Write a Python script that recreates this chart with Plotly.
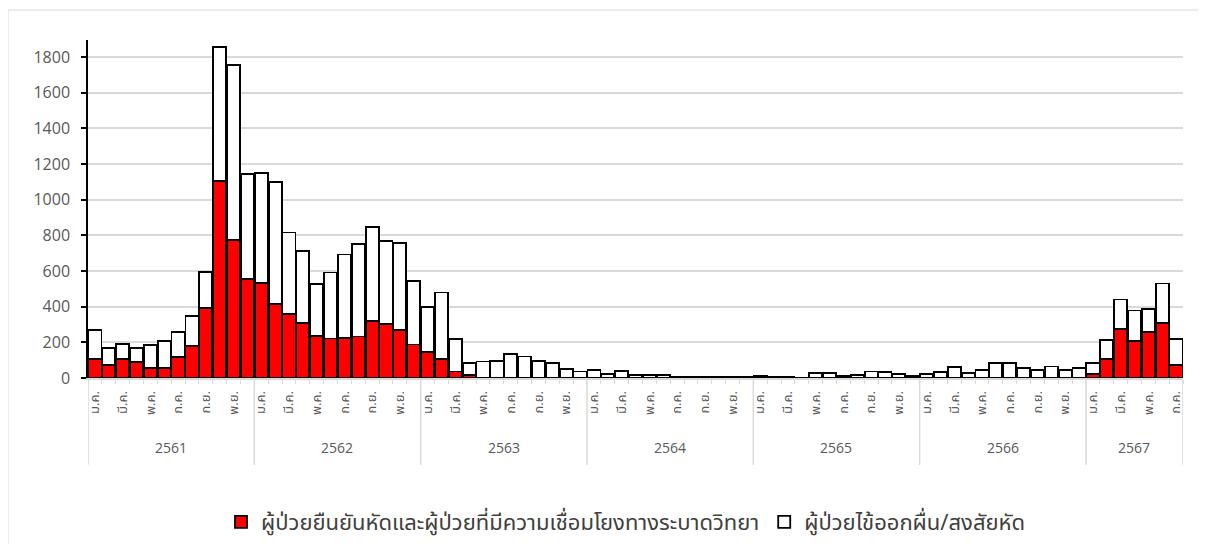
import plotly.graph_objects as go

# ---------------- data ----------------
years = ["2561", "2562", "2563", "2564", "2565", "2566", "2567"]
months = ["ม.ค.", "ก.พ.", "มี.ค.", "เม.ย.", "พ.ค.", "มิ.ย.",
          "ก.ค.", "ส.ค.", "ก.ย.", "ต.ค.", "พ.ย.", "ธ.ค."]
months_per_year = [12, 12, 12, 12, 12, 12, 7]

# total patients per month
total = [267, 168, 191, 166, 187, 206, 260, 348, 593, 1854, 1753, 1142,
         1150, 1099, 816, 710, 529, 592, 692, 750, 847, 768, 758, 544,
         399, 479, 217, 84, 93, 97, 134, 121, 96, 83, 50, 36,
         47, 24, 41, 19, 15, 19, 4, 7, 7, 4, 7, 7,
         9, 7, 4, 2, 28, 30, 11, 19, 36, 34, 22, 13,
         22, 32, 62, 26, 45, 82, 82, 58, 47, 64, 47, 54,
         84, 215, 440, 378, 387, 530, 217]
# confirmed + epidemiologically linked
confirmed = [107, 73, 107, 90, 54, 58, 116, 179, 391, 1103, 772, 557,
             534, 415, 358, 310, 234, 221, 226, 233, 318, 304, 269, 188,
             145, 108, 37, 18, 0, 0, 0, 0, 0, 0, 0, 0,
             0, 0, 0, 0, 0, 0, 0, 0, 0, 0, 0, 0,
             0, 0, 0, 0, 0, 0, 0, 0, 0, 0, 0, 0,
             0, 0, 0, 0, 0, 0, 0, 0, 0, 0, 0, 0,
             21, 108, 275, 209, 256, 307, 72]
suspected = [t - c for t, c in zip(total, confirmed)]

series_names = ["ผู้ป่วยยืนยันหัดและผู้ป่วยที่มีความเชื่อมโยงทางระบาดวิทยา",
                "ผู้ป่วยไข้ออกผื่น/สงสัยหัด"]

# ---------------- build ----------------
idx = list(range(len(total)))
month_labels = []
for n in months_per_year:
    month_labels += months[:n]

tickvals = [i for i, m in enumerate(month_labels) if months.index(m) % 2 == 0]
ticktext = [month_labels[i] for i in tickvals]

FONT = "Noto Sans Thai, Tahoma, Leelawadee UI, DejaVu Sans, sans-serif"
GRAY = "#595959"
LIGHT = "#d9d9d9"

fig = go.Figure()
fig.add_bar(x=idx, y=confirmed, name=series_names[0],
            marker=dict(color="#ff0000", line=dict(color="black", width=1.8)))
fig.add_bar(x=idx, y=suspected, name=series_names[1],
            marker=dict(color="white", line=dict(color="black", width=1.8)))

N = len(total)
shapes = []
annotations = []
start = 0
bounds = [-0.5]
for y, n in zip(years, months_per_year):
    end = start + n - 1
    annotations.append(dict(x=(start + end) / 2, y=-0.207, xref="x", yref="paper",
                            text=y, showarrow=False, yanchor="middle",
                            font=dict(size=14, color=GRAY, family="Open Sans, sans-serif")))
    bounds.append(end + 0.5)
    start = end + 1
for b in bounds:
    shapes.append(dict(type="line", xref="x", yref="paper", x0=b, x1=b,
                       y0=0, y1=-0.257, line=dict(color=LIGHT, width=1.5)))

# page pixel -> paper coordinates (plot area spans x 88..1183, y 40..378 on page)
def px2x(p):
    return (p - 88) / 1095
def px2y(p):
    return (378 - p) / 338
shapes.append(dict(type="rect", xref="paper", yref="paper",
                   x0=px2x(8), x1=px2x(1240), y0=px2y(10), y1=px2y(580),
                   line=dict(color=LIGHT, width=1), fillcolor="rgba(0,0,0,0)",
                   layer="below"))

# page has 8px body offset -> margins compensate
fig.update_layout(
    barmode="stack",
    bargap=0.06,
    width=1206, height=544,
    margin=dict(l=80, r=31, t=32, b=174, autoexpand=False),
    plot_bgcolor="white", paper_bgcolor="white",
    font=dict(family=FONT, color=GRAY),
    showlegend=True,
    legend=dict(orientation="h", x=px2x(626), y=px2y(522), xanchor="center",
                yanchor="middle", font=dict(size=22, color="#404040", family=FONT),
                traceorder="normal", itemwidth=30),
    shapes=shapes,
    annotations=annotations,
    xaxis=dict(range=[-0.5, N - 0.5], tickmode="array", tickvals=tickvals,
               ticktext=ticktext, tickangle=-90, ticks="",
               tickfont=dict(size=13, color=GRAY, family=FONT),
               ticklabelstandoff=6,
               showline=True, linecolor=LIGHT, linewidth=1.5, showgrid=False,
               zeroline=False,
               minor=dict(tickmode="array", tickvals=[i + 0.5 for i in range(-1, N)],
                          ticks="outside", ticklen=4, tickcolor=LIGHT, tickwidth=1)),
    yaxis=dict(range=[0, 1895], tickmode="array",
               tickvals=list(range(0, 1801, 200)),
               ticks="outside", ticklen=5, tickcolor="black", tickwidth=1.5,
               showline=True, linecolor="black", linewidth=1.5,
               showgrid=True, gridcolor=LIGHT, gridwidth=1.5, zeroline=False,
               ticklabelstandoff=8,
               tickfont=dict(size=16, color=GRAY, family="Open Sans, sans-serif")),
)

fig.write_html("out.html")
